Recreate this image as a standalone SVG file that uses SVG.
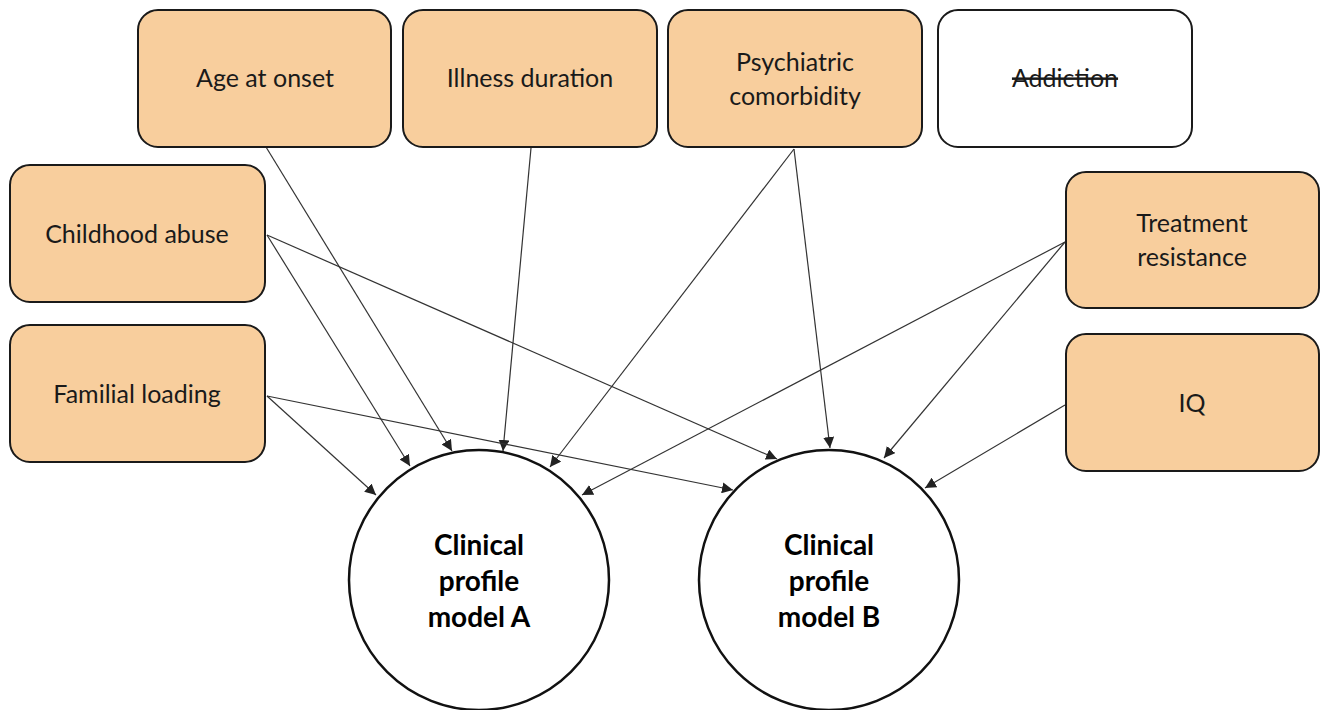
<svg xmlns="http://www.w3.org/2000/svg" width="1321" height="710" viewBox="0 0 1321 710">
<style>
.box{fill:#F8CE9D;stroke:#1a1a1a;stroke-width:2}
.wbox{fill:#ffffff;stroke:#1a1a1a;stroke-width:2}
.lbl{font-family:Lato,"Open Sans",sans-serif;font-size:25px;fill:#1a1a1a;text-anchor:middle}
.bold{font-family:Lato,"Open Sans",sans-serif;font-size:28px;font-weight:bold;fill:#000;text-anchor:middle}
.circ{fill:#fff;stroke:#111;stroke-width:2.5}
.con{stroke:#333;stroke-width:1.2;fill:none;marker-end:url(#ah)}
</style>
<defs>
<marker id="ah" viewBox="0 0 10 10" refX="10" refY="5" markerWidth="11" markerHeight="11" markerUnits="userSpaceOnUse" orient="auto">
<path d="M0,0 L10,5 L0,10 z" fill="#222"/>
</marker>
</defs>
<rect width="1321" height="710" fill="#fff"/>
<g id="connectors">
<line class="con" x1="266" y1="147" x2="452" y2="451"/>
<line class="con" x1="531" y1="148" x2="503" y2="451"/>
<line class="con" x1="794" y1="149" x2="550" y2="467"/>
<line class="con" x1="794" y1="149" x2="830" y2="448"/>
<line class="con" x1="267" y1="235" x2="410" y2="466"/>
<line class="con" x1="267" y1="235" x2="777" y2="459"/>
<line class="con" x1="267" y1="396" x2="376" y2="495"/>
<line class="con" x1="267" y1="396" x2="733" y2="490"/>
<line class="con" x1="1065" y1="242" x2="582" y2="495"/>
<line class="con" x1="1065" y1="242" x2="884" y2="458"/>
<line class="con" x1="1065" y1="405" x2="925" y2="488"/>
</g>
<g id="age_at_onset">
<rect class="box" x="138" y="10" width="253" height="137" rx="20"/>
<text class="lbl" x="265" y="87">Age at onset</text>
</g>
<g id="illness_duration">
<rect class="box" x="403" y="10" width="254" height="137" rx="20"/>
<text class="lbl" x="530" y="87">Illness duration</text>
</g>
<g id="psychiatric_comorbidity">
<rect class="box" x="668" y="10" width="254" height="137" rx="20"/>
<text class="lbl" x="795" y="71">Psychiatric</text>
<text class="lbl" x="795" y="105">comorbidity</text>
</g>
<g id="addiction">
<rect class="wbox" x="938" y="10" width="254" height="137" rx="20"/>
<text class="lbl" x="1065" y="87" text-decoration="line-through">Addiction</text>
</g>
<g id="childhood_abuse">
<rect class="box" x="10" y="165" width="255" height="137" rx="20"/>
<text class="lbl" x="137" y="243">Childhood abuse</text>
</g>
<g id="familial_loading">
<rect class="box" x="10" y="325" width="255" height="137" rx="20"/>
<text class="lbl" x="137" y="403">Familial loading</text>
</g>
<g id="treatment_resistance">
<rect class="box" x="1066" y="172" width="253" height="136" rx="20"/>
<text class="lbl" x="1192" y="232">Treatment</text>
<text class="lbl" x="1192" y="266">resistance</text>
</g>
<g id="iq">
<rect class="box" x="1066" y="334" width="253" height="137" rx="20"/>
<text class="lbl" x="1192" y="412">IQ</text>
</g>
<g id="model_a">
<circle class="circ" cx="479" cy="580" r="130"/>
<text class="bold" x="479" y="555">Clinical</text>
<text class="bold" x="479" y="591">profile</text>
<text class="bold" x="479" y="627">model A</text>
</g>
<g id="model_b">
<circle class="circ" cx="829" cy="580" r="130"/>
<text class="bold" x="829" y="555">Clinical</text>
<text class="bold" x="829" y="591">profile</text>
<text class="bold" x="829" y="627">model B</text>
</g>
</svg>
